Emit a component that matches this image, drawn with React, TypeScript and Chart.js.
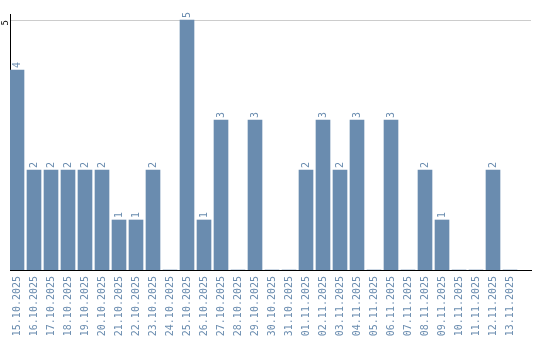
import React, { useEffect, useRef } from "react";
import { Chart, registerables } from "chart.js";

Chart.register(...registerables);

const dates = [
  "15.10.2025", "16.10.2025", "17.10.2025", "18.10.2025", "19.10.2025",
  "20.10.2025", "21.10.2025", "22.10.2025", "23.10.2025", "24.10.2025",
  "25.10.2025", "26.10.2025", "27.10.2025", "28.10.2025", "29.10.2025",
  "30.10.2025", "31.10.2025", "01.11.2025", "02.11.2025", "03.11.2025",
  "04.11.2025", "05.11.2025", "06.11.2025", "07.11.2025", "08.11.2025",
  "09.11.2025", "10.11.2025", "11.11.2025", "12.11.2025", "13.11.2025",
];
const counts = [4, 2, 2, 2, 2, 2, 1, 1, 2, 0, 5, 1, 3, 0, 3, 0, 0, 2, 3, 2, 3, 0, 3, 0, 2, 1, 0, 0, 2, 0];
const yTicks = [5];

const BAR = "#6a8caf";
const MONO = "'DejaVu Sans Mono', monospace";

const valueLabels = {
  id: "valueLabels",
  afterDatasetsDraw(chart: any) {
    const ctx = chart.ctx;
    const meta = chart.getDatasetMeta(0);
    ctx.save();
    ctx.fillStyle = BAR;
    ctx.font = `10px ${MONO}`;
    ctx.textAlign = "left";
    ctx.textBaseline = "middle";
    meta.data.forEach((el: any, i: number) => {
      const v = counts[i];
      if (!v) return;
      ctx.save();
      ctx.translate(el.x, el.y - 2);
      ctx.rotate(-Math.PI / 2);
      ctx.fillText(String(v), 0, 0);
      ctx.restore();
    });
    ctx.restore();
  },
};

export default function App() {
  const ref = useRef<HTMLCanvasElement | null>(null);
  useEffect(() => {
    if (!ref.current) return;
    const pitch = 17;
    const xMin = -7 / pitch;
    const xMax = xMin + 521 / pitch;
    const chart = new Chart(ref.current, {
      type: "bar",
      data: {
        datasets: [
          {
            data: counts.map((v, i) => ({ x: i, y: v })),
            backgroundColor: BAR,
            borderWidth: 0,
            barThickness: 14,
          },
        ],
      },
      options: {
        responsive: false,
        animation: false,
        devicePixelRatio: 1,
        layout: { padding: { left: 0, right: 9, top: 14, bottom: 0 } },
        plugins: { legend: { display: false }, tooltip: { enabled: false } },
        scales: {
          x: {
            type: "linear",
            offset: false,
            min: xMin,
            max: xMax,
            afterBuildTicks: (scale: any) => {
              scale.ticks = dates.map((_, i) => ({ value: i }));
            },
            afterFit: (scale: any) => {
              scale.height = 70;
              scale.paddingLeft = 0;
              scale.paddingRight = 0;
            },
            ticks: {
              autoSkip: false,
              minRotation: 90,
              maxRotation: 90,
              padding: 6,
              color: BAR,
              font: { family: MONO, size: 10 },
              callback: (v: any) => dates[v as number] ?? "",
            },
            grid: { display: false, drawTicks: false, offset: false },
            border: { display: true, color: "#000000", width: 1 },
          },
          y: {
            min: 0,
            max: 5.12,
            afterBuildTicks: (scale: any) => {
              scale.ticks = yTicks.map((v) => ({ value: v }));
            },
            afterFit: (scale: any) => {
              scale.width = 10;
            },
            ticks: {
              minRotation: 90,
              maxRotation: 90,
              padding: 4,
              color: "#000000",
              font: { family: MONO, size: 9 },
            },
            grid: { color: "#cccccc", drawTicks: false },
            border: { display: true, color: "#000000", width: 1 },
          },
        },
      },
      plugins: [valueLabels],
    });
    return () => chart.destroy();
  }, []);
  return (
    <canvas
      ref={ref}
      width={540}
      height={340}
      style={{ position: "fixed", left: 0, top: 0, width: 540, height: 340 }}
    />
  );
}
